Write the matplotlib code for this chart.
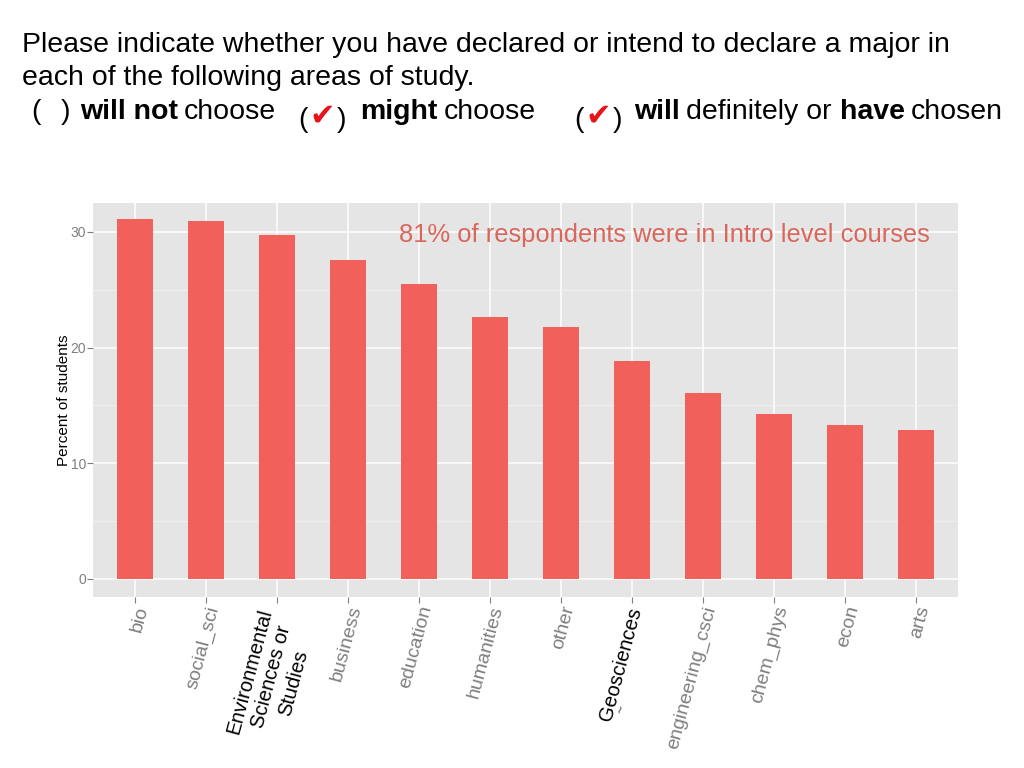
import matplotlib
matplotlib.use("Agg")
import matplotlib.pyplot as plt
import numpy as np

categories = ["bio", "social_sci", "Environmental\nSciences or\nStudies", "business",
              "education", "humanities", "other", "Geosciences", "engineering_csci",
              "chem_phys", "econ", "arts"]
percent = [31.1, 30.9, 29.7, 27.6, 25.5, 22.6, 21.8, 18.8, 16.1, 14.3, 13.3, 12.9]
highlight = ["Environmental\nSciences or\nStudies", "Geosciences"]
yticks = [0, 10, 20, 30]

FONT = "Liberation Sans"
BAR = "#F1605B"
BG = "#E5E5E5"
GREYTXT = "#7F7F7F"

fig = plt.figure(figsize=(10.24, 7.68), dpi=100)
ax = fig.add_axes([0.0908, 0.2227, 0.8447, 0.513])
ax.set_facecolor(BG)
x = np.arange(len(categories))
ax.bar(x, percent, width=0.51, color=BAR, zorder=3)
ax.set_xlim(-0.59, len(categories) - 1 + 0.59)
ax.set_ylim(-1.56, 32.5)
ax.set_yticks(yticks)
ax.set_yticks([5, 15, 25], minor=True)
ax.set_xticks(x)
ax.grid(True, which="major", color="white", linewidth=1.1, zorder=1)
ax.grid(True, which="minor", axis="y", color="#F2F2F2", linewidth=0.6, zorder=1)
for s in ax.spines.values():
    s.set_visible(False)
ax.tick_params(axis="both", which="major", color=GREYTXT, length=4, width=0.8,
               labelcolor=GREYTXT, labelsize=10)
ax.tick_params(axis="x", pad=1)
ax.tick_params(axis="y", pad=1)
ax.tick_params(axis="y", which="minor", length=0)
ax.set_yticklabels([str(v) for v in yticks], fontfamily=FONT)

labels = [c if c not in highlight else "" for c in categories]
ax.set_xticklabels(labels, rotation=75, ha="right", va="top",
                   rotation_mode="anchor", fontfamily=FONT, fontsize=14)

# highlighted category labels (black, drawn separately so they can be nudged)
offsets = {highlight[0]: (-14, -2), highlight[1]: (-4, -1)}
for i, c in enumerate(categories):
    if c in highlight:
        dx, dy = offsets[c]
        ax.annotate(c, xy=(i, 0), xycoords=("data", "axes fraction"),
                    xytext=(dx, dy - 5), textcoords="offset points",
                    rotation=75, ha="right", va="top", rotation_mode="anchor",
                    multialignment="center", fontsize=14.5, fontfamily=FONT,
                    color="black", linespacing=1.22, annotation_clip=False)
ax.annotate("~", xy=(7, 0), xycoords=("data", "axes fraction"),
            xytext=(-8, -80), textcoords="offset points", fontsize=8,
            color="#444444", rotation=75, ha="center", va="center",
            annotation_clip=False)

ax.set_ylabel("Percent of students", fontfamily=FONT, fontsize=11, color="black")
ax.yaxis.set_label_coords(-0.0255, 0.5)

ax.text(0.9676, 0.918, "81% of respondents were in Intro level courses",
        transform=ax.transAxes, ha="right", va="center", fontsize=18.4,
        fontfamily=FONT, color="#D9675B", zorder=5)

# slide header
HS = 20.5
fig.text(0.0215, 1 - 45 / 768, "Please indicate whether you have declared or intend to declare a major in",
         fontsize=HS, fontfamily=FONT, va="center", ha="left")
fig.text(0.0215, 1 - 78 / 768, "each of the following areas of study.",
         fontsize=HS, fontfamily=FONT, va="center", ha="left")

yl = 1 - 112 / 768
def t(xpx, s, bold=False, color="black", size=HS, dy=0, fam=FONT):
    fig.text(xpx / 1024, yl - dy / 768, s, fontsize=size, fontfamily=fam,
             fontweight="bold" if bold else "normal", color=color,
             va="center", ha="left")

t(31, "(")
t(61, ")")
t(80, "will not", bold=True)
t(184, "choose")
t(298, "(", dy=8)
t(309, "\u2714", color="#E8141B", size=22, dy=4, fam="DejaVu Sans")
t(337, ")", dy=8)
t(360, "might", bold=True)
t(444, "choose")
t(574, "(", dy=8)
t(585, "\u2714", color="#E8141B", size=22, dy=4, fam="DejaVu Sans")
t(613, ")", dy=8)
t(634, "will", bold=True)
t(686, "definitely or")
t(840, "have", bold=True)
t(911, "chosen")

fig.savefig("out.png", dpi=100)
